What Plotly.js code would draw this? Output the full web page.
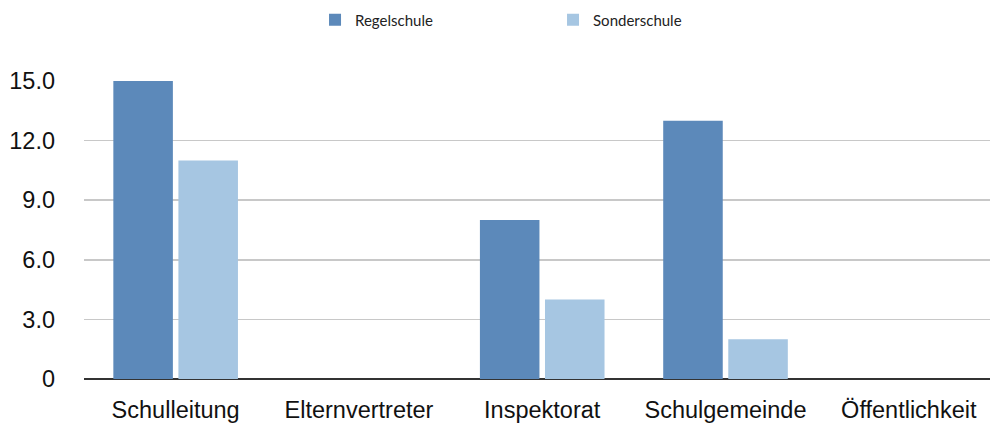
<!DOCTYPE html>
<html>
<head>
<meta charset="utf-8">
<script src="https://cdn.plot.ly/plotly-3.0.1.min.js"></script>
<style>html,body{margin:0;padding:0;background:#fff;}#chart{width:990px;height:423px;}</style>
</head>
<body>
<div id="chart"></div>
<script>
const categories = ["Schulleitung", "Elternvertreter", "Inspektorat", "Schulgemeinde", "Öffentlichkeit"];
const regelschule = [15, 0, 8, 13, 0];
const sonderschule = [11, 0, 4, 2, 0];
const seriesNames = ["Regelschule", "Sonderschule"];
const yTickVals = [0, 3, 6, 9, 12, 15];
const yTickText = ["0", "3.0", "6.0", "9.0", "12.0", "15.0"];

const data = [
  {type: "bar", name: seriesNames[0], x: categories, y: regelschule, marker: {color: "#5c89ba"}},
  {type: "bar", name: seriesNames[1], x: categories, y: sonderschule, marker: {color: "#a6c6e2"}}
];

const layout = {
  width: 990, height: 423,
  margin: {l: 84, r: 0, t: 81, b: 44, autoexpand: false},
  paper_bgcolor: "#fff", plot_bgcolor: "#fff",
  barmode: "group",
  bargap: 0.29,
  bargroupgap: 0.085,
  showlegend: true,
  legend: {
    orientation: "h", x: 0.255, xanchor: "left", yref: "container", y: 0.9527, yanchor: "middle",
    font: {family: "Lato, 'Open Sans', sans-serif", size: 15, color: "#222"},
    entrywidth: 193, entrywidthmode: "pixels", traceorder: "normal"
  },
  xaxis: {
    type: "category", range: [-0.5, 4.443],
    showgrid: false, zeroline: false, showline: false, ticks: "",
    tickfont: {family: "'Liberation Sans', Arial, sans-serif", size: 23.5, color: "#111"},
    ticklabelstandoff: 14, automargin: false
  },
  yaxis: {
    range: [0, 15], tickvals: yTickVals, ticktext: yTickText,
    showgrid: true, gridcolor: "#c8c8c8", gridwidth: 1.5,
    zeroline: true, zerolinecolor: "#333", zerolinewidth: 2,
    showline: false, ticks: "",
    tickfont: {family: "'Liberation Sans', Arial, sans-serif", size: 23.5, color: "#111"},
    ticklabelstandoff: 28, automargin: false
  }
};

Plotly.newPlot("chart", data, layout, {displayModeBar: false, staticPlot: true});
</script>
</body>
</html>
